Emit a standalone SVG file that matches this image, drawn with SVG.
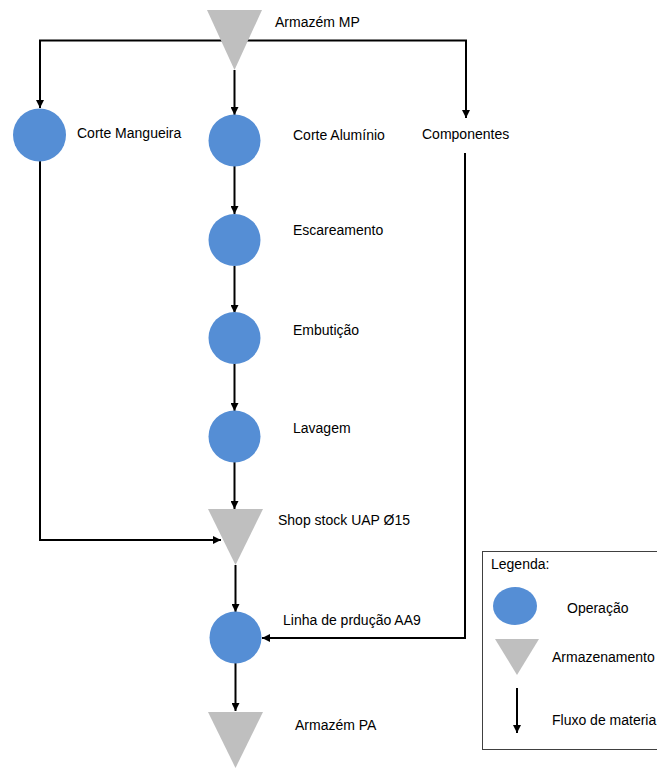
<svg xmlns="http://www.w3.org/2000/svg" width="657" height="769" viewBox="0 0 657 769">
<style>
.op{fill:#558ED5;}
.st{fill:#BFBFBF;}
.lbl{font-family:"Liberation Sans",Arial,sans-serif;font-size:14px;fill:#000;}
.ln{fill:none;stroke:#000;stroke-width:2;}
</style>
<defs>
<marker id="ah" markerUnits="userSpaceOnUse" markerWidth="8" markerHeight="8" refX="8" refY="4" orient="auto">
<path d="M0,0 L8,4 L0,8 z" fill="#000"/>
</marker>
</defs>
<rect width="657" height="769" fill="#fff"/>
<g id="connectors">
<path class="ln" d="M234.5,70 V115" marker-end="url(#ah)"/>
<path class="ln" d="M234.5,40.5 H40 V108" marker-end="url(#ah)"/>
<path class="ln" d="M234.5,40.5 H466 V118" marker-end="url(#ah)"/>
<path class="ln" d="M234.5,166 V214" marker-end="url(#ah)"/>
<path class="ln" d="M234.5,266 V313" marker-end="url(#ah)"/>
<path class="ln" d="M234.5,363 V411" marker-end="url(#ah)"/>
<path class="ln" d="M234.5,462 V509" marker-end="url(#ah)"/>
<path class="ln" d="M40,161 V540 H221" marker-end="url(#ah)"/>
<path class="ln" d="M235.5,565 V612" marker-end="url(#ah)"/>
<path class="ln" d="M465,153 V638 H262" marker-end="url(#ah)"/>
<path class="ln" d="M235.5,663 V711" marker-end="url(#ah)"/>
</g>
<g id="armazem-mp">
<polygon class="st" points="207,10 262,10 234.5,70"/>
<text class="lbl" x="275" y="27">Armazém MP</text>
</g>
<g id="corte-mangueira">
<circle class="op" cx="39.5" cy="135" r="26.5"/>
<text class="lbl" x="77" y="138">Corte Mangueira</text>
</g>
<g id="corte-aluminio">
<circle class="op" cx="234.5" cy="140.5" r="26"/>
<text class="lbl" x="293" y="140">Corte Alumínio</text>
</g>
<g id="componentes">
<text class="lbl" x="422" y="139">Componentes</text>
</g>
<g id="escareamento">
<circle class="op" cx="234.5" cy="240" r="26"/>
<text class="lbl" x="293" y="235">Escareamento</text>
</g>
<g id="embuticao">
<circle class="op" cx="234.5" cy="338" r="26"/>
<text class="lbl" x="293" y="335">Embutição</text>
</g>
<g id="lavagem">
<circle class="op" cx="234.5" cy="436.5" r="26"/>
<text class="lbl" x="293" y="433">Lavagem</text>
</g>
<g id="shop-stock">
<polygon class="st" points="208,509 263,509 235.5,565"/>
<text class="lbl" x="278" y="525">Shop stock UAP Ø15</text>
</g>
<g id="linha-producao">
<circle class="op" cx="235.5" cy="637.5" r="26"/>
<text class="lbl" x="283" y="625">Linha de prdução AA9</text>
</g>
<g id="armazem-pa">
<polygon class="st" points="208,712 263,712 235.5,768"/>
<text class="lbl" x="295" y="730">Armazém PA</text>
</g>
<g id="legenda">
<rect x="482.5" y="551.5" width="220" height="198" fill="#fff" stroke="#404040" stroke-width="1"/>
<text class="lbl" x="491" y="569">Legenda:</text>
<ellipse class="op" cx="515" cy="606" rx="22" ry="19"/>
<text class="lbl" x="567" y="613">Operação</text>
<polygon class="st" points="495,639 539,639 517,675"/>
<text class="lbl" x="552" y="662">Armazenamento</text>
<path class="ln" d="M517,688 V733" marker-end="url(#ah)"/>
<text class="lbl" x="552" y="725">Fluxo de materia</text>
</g>
</svg>
